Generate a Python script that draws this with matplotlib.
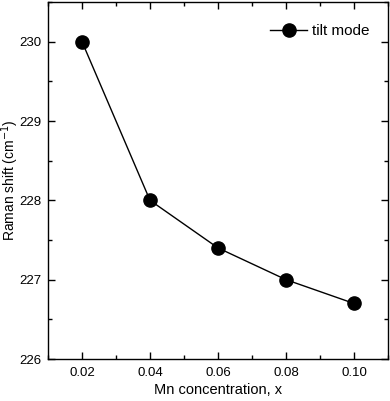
import numpy as np
import matplotlib
matplotlib.use("Agg")
import matplotlib.pyplot as plt
from matplotlib.ticker import MultipleLocator

x = [0.02, 0.04, 0.06, 0.08, 0.10]
y = [230.0, 228.0, 227.4, 227.0, 226.7]

plt.rcParams['font.family'] = ['Liberation Sans', 'DejaVu Sans']
fig = plt.figure(figsize=(3.9, 4.01), dpi=100)
ax = fig.add_axes([48/390, 1 - 359/401, (388-48)/390, (359-2)/401])

ax.plot(x, y, '-o', color='black', ms=9.5, lw=1.0, label='tilt mode')

ax.set_xlim(0.01, 0.11)
ax.set_ylim(226, 230.5)
ax.set_xticks(x)
ax.set_xticklabels(['0.02', '0.04', '0.06', '0.08', '0.10'])
ax.set_yticks([226, 227, 228, 229, 230])
ax.xaxis.set_minor_locator(MultipleLocator(0.01))
ax.yaxis.set_minor_locator(MultipleLocator(0.5))
ax.tick_params(which='both', direction='in', top=True, right=True, labelsize=9.5, width=1)
ax.tick_params(which='major', length=5)
ax.tick_params(axis='x', which='major', pad=6)
ax.tick_params(axis='y', which='major', pad=5)
ax.tick_params(which='minor', length=3)
for s in ax.spines.values():
    s.set_linewidth(1.0)

ax.set_xlabel('Mn concentration, x', fontsize=10.5, labelpad=3)
ax.set_ylabel('Raman shift (cm$^{-1}$)', fontsize=10)
ax.yaxis.set_label_coords(-0.079, 0.5)
leg = ax.legend(loc='upper right', bbox_to_anchor=(0.965, 0.955), frameon=False, fontsize=11,
                handlelength=2.4, handletextpad=0.35, borderaxespad=0.0)

fig.savefig('out.png', dpi=100)
